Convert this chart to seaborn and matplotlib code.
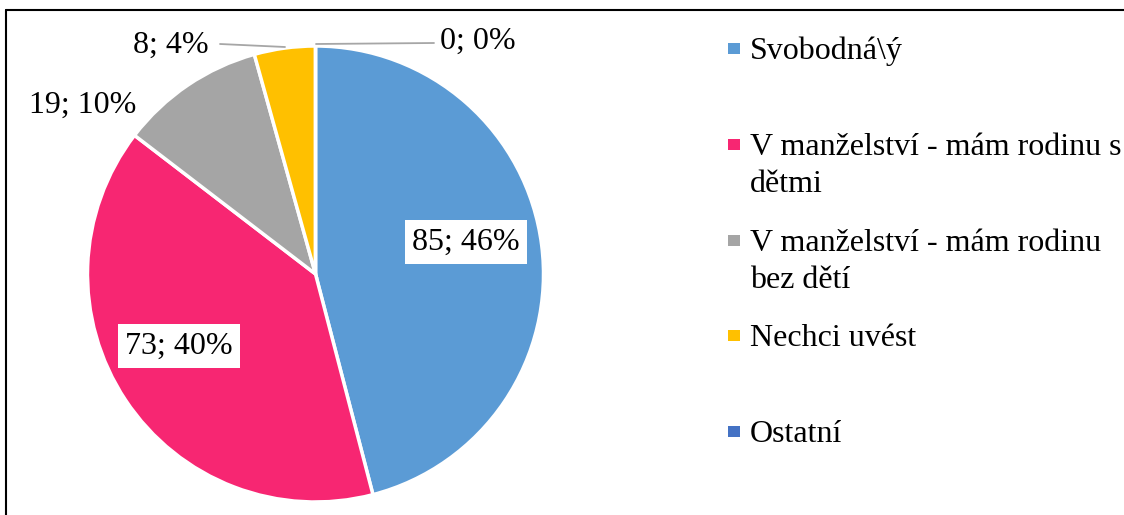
import matplotlib
matplotlib.use("Agg")
import matplotlib.pyplot as plt
import seaborn as sns
from matplotlib.patches import Rectangle
from matplotlib.lines import Line2D

# ---- data ----
categories = ["Svobodná\\ý",
              "V manželství - mám rodinu s\ndětmi",
              "V manželství - mám rodinu\nbez dětí",
              "Nechci uvést",
              "Ostatní"]
counts = [85, 73, 19, 8, 0]
percent_labels = ["46%", "40%", "10%", "4%", "0%"]
colors = ["#5B9BD5", "#F72672", "#A5A5A5", "#FFC000", "#4472C4"]

# ---- style ----
sns.set_theme(style="white")
plt.rcParams['font.family'] = ['Liberation Serif', 'DejaVu Serif']
FS = 23

W, H = 1124, 515
fig = plt.figure(figsize=(W / 100, H / 100), dpi=100)
fig.patch.set_facecolor("white")

cx, cy, R = 315.5, 274, 228
ax = fig.add_axes([(cx - R) / W, (H - cy - R) / H, 2 * R / W, 2 * R / H])
wedges, _ = ax.pie(counts, colors=colors, startangle=90, counterclock=False,
                   radius=1, wedgeprops=dict(edgecolor="white", linewidth=2.5))
ax.set_xlim(-1, 1)
ax.set_ylim(-1, 1)
ax.axis("off")

def px2d(x, y):
    return (x - cx) / R, (cy - y) / R

# data label layout (pixel positions of label centres)
label_pos = [(466, 242), (179, 346), (83, 105), (171, 45), (478, 41)]
boxed = [True, True, False, False, False]
for v, p, pos, b in zip(counts, percent_labels, label_pos, boxed):
    x, y = px2d(*pos)
    kw = {}
    if b:
        kw["bbox"] = dict(boxstyle="square,pad=0.22", fc="white", ec="none")
    ax.text(x, y, f"{v}; {p}", ha="center", va="center", fontsize=FS,
            color="black", clip_on=False, **kw)

# leader lines for small slices
leaders = [((220, 44), (285, 47)), ((316, 44), (434, 43))]
for (x0, y0), (x1, y1) in leaders:
    a = px2d(x0, y0); b2 = px2d(x1, y1)
    ax.add_line(Line2D([a[0], b2[0]], [a[1], b2[1]], color="#A6A6A6",
                       lw=1.3, clip_on=False))

# ---- legend (manual, Excel-like) ----
marker_y = [48, 144, 240, 335, 431]
line_gap = 37.5
for lab, col, my in zip(categories, colors, marker_y):
    fig.patches.append(Rectangle((728 / W, (H - my - 6) / H), 12 / W, 11 / H,
                                 transform=fig.transFigure, fc=col, ec="none"))
    for i, line in enumerate(lab.split("\n")):
        by = my + 11 + i * line_gap
        fig.text(750 / W, (H - by) / H, line, ha="left", va="baseline",
                 fontsize=FS, color="black")

# ---- border (top and left edges) ----
fig.add_artist(Line2D([6 / W, 1.0], [(H - 10) / H, (H - 10) / H],
                      transform=fig.transFigure, color="black", lw=1.5))
fig.add_artist(Line2D([6 / W, 6 / W], [(H - 10) / H, 0.0],
                      transform=fig.transFigure, color="black", lw=1.5))

fig.savefig("out.png", dpi=100, facecolor="white")
